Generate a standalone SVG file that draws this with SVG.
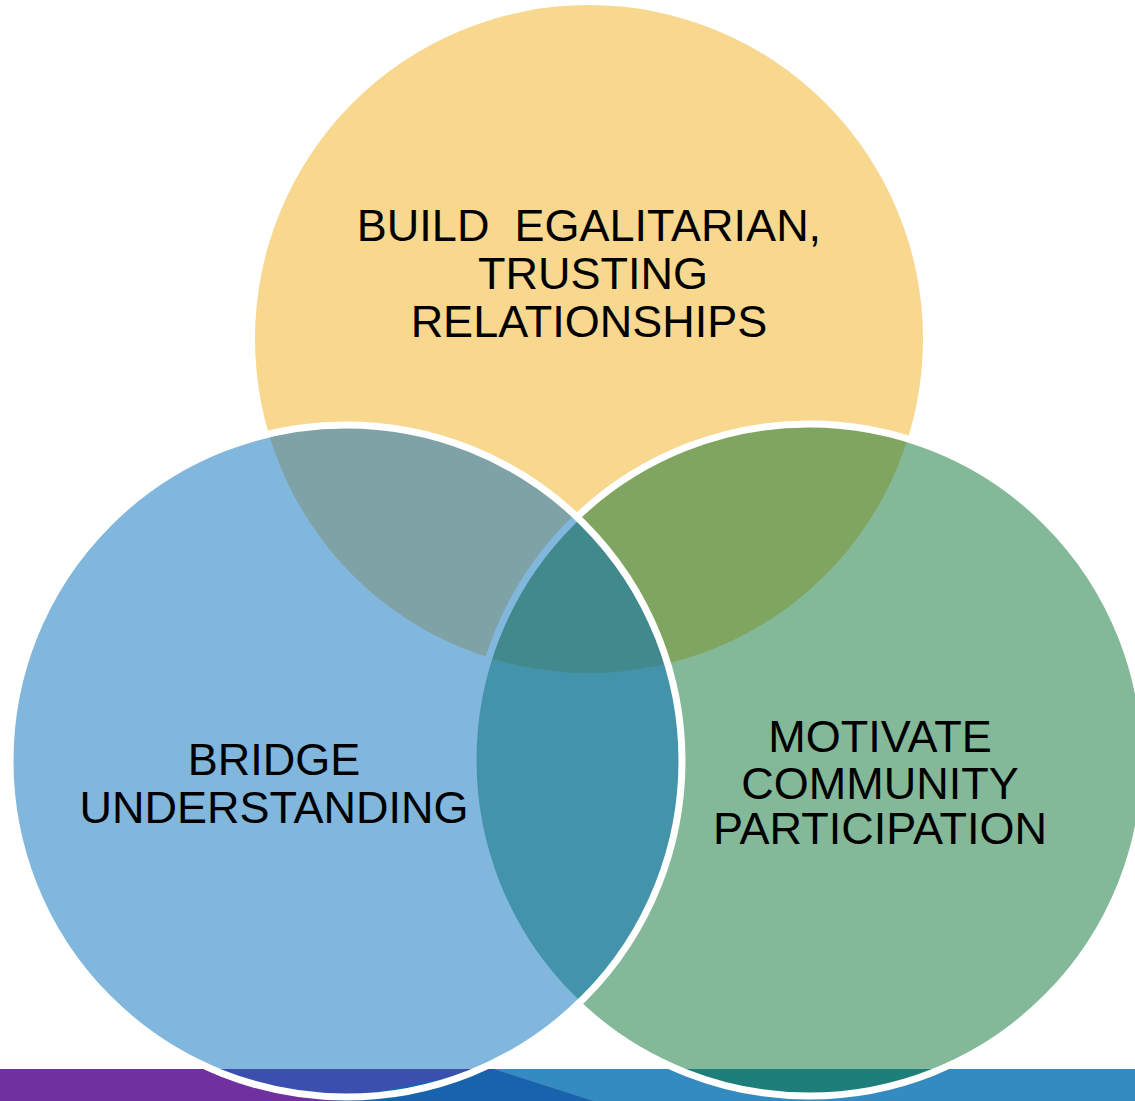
<svg xmlns="http://www.w3.org/2000/svg" width="1135" height="1101" viewBox="0 0 1135 1101">
  <style>
    .lbl { font-family: "Liberation Sans", Arial, sans-serif; font-size: 45px; fill: #000000; text-anchor: middle; white-space: pre; }
    .ring { stroke: #FFFFFF; stroke-width: 7; }
  </style>
  <rect x="0" y="0" width="1135" height="1101" fill="#FFFFFF"/>
  <g id="footer-bar">
    <rect x="0" y="1069" width="1135" height="32" fill="#7030A0"/>
    <polygon points="493,1069 593,1101 332,1101" fill="#1763AC"/>
    <polygon points="493,1069 1135,1069 1135,1101 593,1101" fill="#348BC1"/>
  </g>
  <g id="node-build">
    <circle cx="589" cy="339" r="334" fill="#F8D78E"/>
    <text class="lbl" x="589" y="241" xml:space="preserve">BUILD  EGALITARIAN,</text>
    <text class="lbl" x="593" y="289">TRUSTING</text>
    <text class="lbl" x="589" y="337">RELATIONSHIPS</text>
  </g>
  <g id="node-motivate">
    <circle class="ring" cx="809" cy="760" r="336" fill="rgba(7,115,51,0.5)"/>
    <text class="lbl" x="880" y="752">MOTIVATE</text>
    <text class="lbl" x="880" y="799">COMMUNITY</text>
    <text class="lbl" x="880" y="844">PARTICIPATION</text>
  </g>
  <g id="node-bridge">
    <circle class="ring" cx="346" cy="761" r="336" fill="rgba(3,109,187,0.5)"/>
    <text class="lbl" x="274" y="775">BRIDGE</text>
    <text class="lbl" x="274" y="823">UNDERSTANDING</text>
  </g>
  <g id="connectors"></g>
</svg>
